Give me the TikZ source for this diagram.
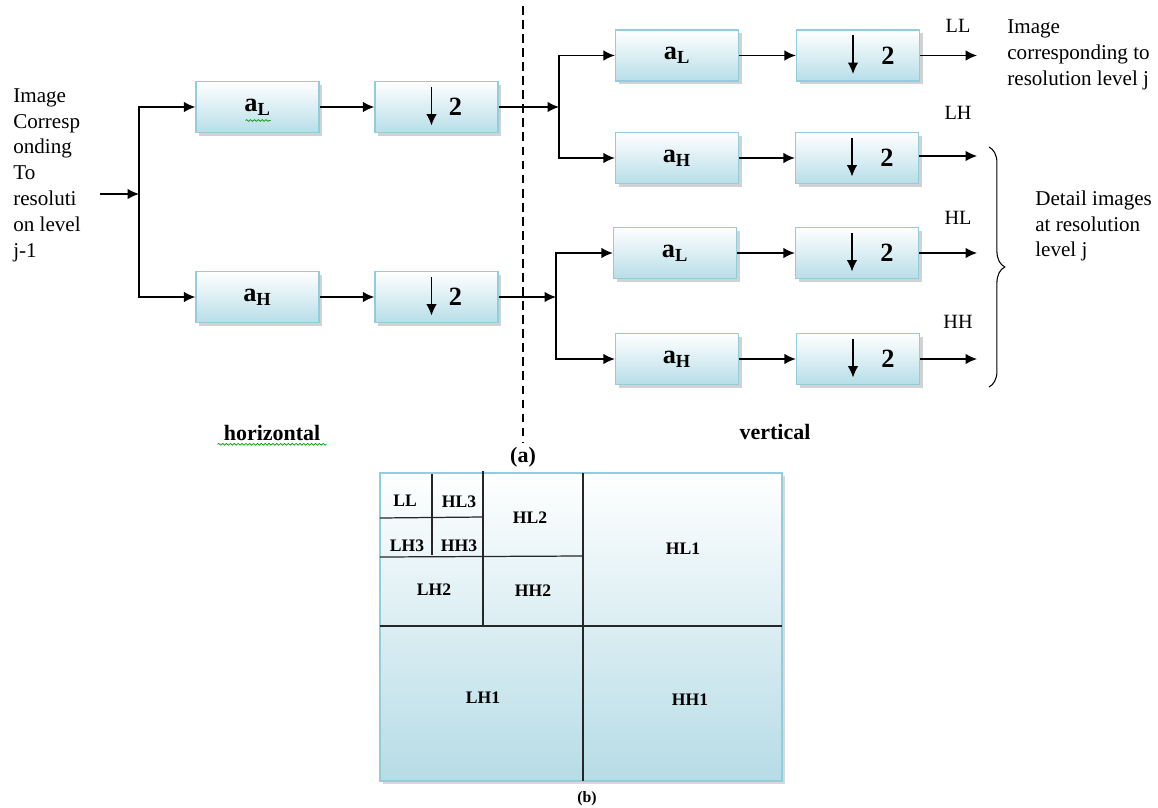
\documentclass[tikz,border=0pt]{standalone}
\usepackage{fontspec}
\setmainfont{Liberation Serif}
\usepackage{xcolor}
\definecolor{boxblue}{RGB}{183, 222, 232}
\definecolor{boxedge}{RGB}{146, 205, 221}
\definecolor{gridblue}{RGB}{182, 220, 230}
\usetikzlibrary{arrows.meta, shadows, decorations.pathreplacing, decorations.pathmorphing}

\newcommand{\filtL}{a\textsubscript{L}}
\newcommand{\filtH}{a\textsubscript{H}}
\newcommand{\dsample}[1]{\hspace*{#1}2}

\begin{document}
\begin{tikzpicture}[x=0.02cm, y=-0.02cm,
    filt/.style={draw=boxedge, thick, top color=white, bottom color=boxblue,
        minimum width=2.46cm, minimum height=1.02cm, inner sep=0pt,
        font=\fontsize{15}{18}\selectfont\bfseries,
        drop shadow={shadow xshift=1.8pt, shadow yshift=-1.8pt, fill=black!35}},
    arr/.style={-{Latex[length=6.5pt, width=6pt]}, line width=0.8pt},
    dsbox/.style={filt, path picture={
        \draw[black, -{Latex[length=6.5pt, width=6pt]}, line width=0.8pt]
            ([xshift=-0.1cm, yshift=0.4cm]path picture bounding box.center) --
            ([xshift=-0.1cm, yshift=-0.37cm]path picture bounding box.center);}},
    txt/.style={font=\fontsize{12}{14.7}\selectfont, align=left, inner sep=0pt},
    band/.style={font=\fontsize{11.5}{13}\selectfont},
    sub/.style={font=\fontsize{10}{12}\selectfont\bfseries, inner sep=1pt},
    gridline/.style={line width=0.7pt, black!85}]

    \useasboundingbox (0,0) rectangle (1158,807);

    % Input image
    \node[txt, anchor=west] (src) at (13,175) {Image\\Corresp\\onding\\To\\resoluti\\on level\\j-1};
    \coordinate (inp) at (100,194);
    \coordinate (s0) at (139,194);
    \draw[arr] (inp) -- (s0);

    % Horizontal filtering
    \node[filt] (hL) at (257.5,107) {\filtL};
    \node[filt] (hH) at (257.5,297) {\filtH};
    \node[dsbox] (hd1) at (436.5,107) {\dsample{0.76cm}};
    \node[dsbox] (hd2) at (436.5,297) {\dsample{0.76cm}};
    \draw[arr] (s0) |- (hL.west);
    \draw[arr] (s0) |- (hH.west);
    \draw[arr] (hL) -- (hd1);
    \draw[arr] (hH) -- (hd2);

    % Divider
    \draw[dashed, dash pattern=on 5pt off 3pt, line width=0.9pt] (523,6) -- (523,442);

    % Vertical filtering
    \coordinate (v1) at (559,107);
    \coordinate (v2) at (556,297);
    \draw[arr] (hd1) -- (v1);
    \draw[arr] (hd2) -- (v2);

    \node[filt] (vL1) at (677,55.5) {\filtL};
    \node[filt] (vH1) at (677,158) {\filtH};
    \node[filt] (vL2) at (675,253) {\filtL};
    \node[filt] (vH2) at (677,359) {\filtH};
    \draw[arr] (v1) |- (vL1.west);
    \draw[arr] (v1) |- (vH1.west);
    \draw[arr] (v2) |- (vL2.west);
    \draw[arr] (v2) |- (vH2.west);

    \node[dsbox] (vd1) at (858,55.5) {\dsample{1.2cm}};
    \node[dsbox] (vd2) at (857,158) {\dsample{1.2cm}};
    \node[dsbox] (vd3) at (857,253) {\dsample{1.2cm}};
    \node[dsbox] (vd4) at (858,359) {\dsample{1.2cm}};
    \draw[arr] (vL1) -- (vd1);
    \draw[arr] (vH1) -- (vd2);
    \draw[arr] (vL2) -- (vd3);
    \draw[arr] (vH2) -- (vd4);

    % Outputs
    \coordinate (o1) at (977,55.5);
    \coordinate (o2) at (977,156);
    \coordinate (o3) at (977,253);
    \coordinate (o4) at (977,359);
    \draw[arr] (vd1) -- (o1);
    \draw[arr] (vd2.east |- o2) -- (o2);
    \draw[arr] (vd3) -- (o3);
    \draw[arr] (vd4) -- (o4);

    \node[band] (LL) at (958,26) {LL};
    \node[band] (LH) at (958,113) {LH};
    \node[band] (HL) at (958,218) {HL};
    \node[band] (HH) at (958,322) {HH};

    \node[txt, anchor=west] (approx) at (1007,55) {Image\\corresponding to\\resolution level j};

    \coordinate (bt) at (989,147);
    \coordinate (bb) at (989,387);
    \draw[decorate, decoration={brace, amplitude=9pt}, line width=0.6pt] (bt) -- (bb);
    \node[txt, anchor=west] (detail) at (1035,226) {Detail images\\at resolution\\level j};

    % Captions
    \node[font=\fontsize{12.5}{15}\selectfont\bfseries] (hz) at (272,433) {horizontal};
    \node[font=\fontsize{12.5}{15}\selectfont\bfseries] (vt) at (775,432) {vertical};
    \draw[green!60!black, decorate, decoration={snake, amplitude=0.5pt, segment length=2.2pt}]
        ([yshift=1.5pt]hz.south west) -- ([yshift=1.5pt]hz.south east);
    \draw[green!60!black, decorate, decoration={snake, amplitude=0.5pt, segment length=2.2pt}]
        ([xshift=-0.24cm, yshift=-0.27cm]hL.center) -- ([xshift=0.26cm, yshift=-0.27cm]hL.center);
    \node[font=\fontsize{12.5}{15}\selectfont\bfseries] (capa) at (523,457) {(a)};

    % Decomposition layout
    \shade[top color=white, bottom color=gridblue, draw=boxedge, thick,
        drop shadow={shadow xshift=1.8pt, shadow yshift=-1.8pt, fill=black!30}]
        (380,473) rectangle (782,781);
    \draw[gridline] (583,473) -- (583,781);
    \draw[gridline] (380,626) -- (782,626);
    \draw[gridline] (483,471) -- (483,626);
    \draw[gridline] (380,557) -- (583,556);
    \draw[gridline] (432,474) -- (432,555);
    \draw[gridline] (380,518) -- (483,517);

    \node[sub] (ll) at (405,501) {LL};
    \node[sub] (hl3) at (459,502) {HL3};
    \node[sub] (lh3) at (407,546) {LH3};
    \node[sub] (hh3) at (459,546) {HH3};
    \node[sub] (hl2) at (530,518) {HL2};
    \node[sub] (lh2) at (434,590) {LH2};
    \node[sub] (hh2) at (533,591) {HH2};
    \node[sub] (hl1) at (683,549) {HL1};
    \node[sub] (lh1) at (483,698) {LH1};
    \node[sub] (hh1) at (690,700) {HH1};
    \node[font=\fontsize{9}{11}\selectfont\bfseries] (capb) at (587,799) {(b)};
\end{tikzpicture}
\end{document}
